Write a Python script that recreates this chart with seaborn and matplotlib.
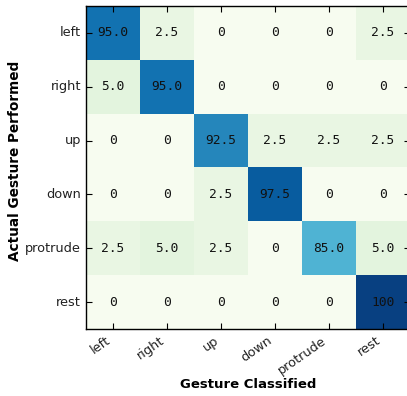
import numpy as np
import pandas as pd
import matplotlib
matplotlib.use("Agg")
import matplotlib.pyplot as plt
from matplotlib.colors import FuncNorm
import seaborn as sns

# ---------------------------------------------------------------------------
# Data: confusion matrix (percent), rows = actual, cols = classified
# ---------------------------------------------------------------------------
gestures = ["left", "right", "up", "down", "protrude", "rest"]

row_left     = [95.0, 2.5, 0, 0, 0, 2.5]
row_right    = [5.0, 95.0, 0, 0, 0, 0]
row_up       = [0, 0, 92.5, 2.5, 2.5, 2.5]
row_down     = [0, 0, 2.5, 97.5, 0, 0]
row_protrude = [2.5, 5.0, 2.5, 0, 85.0, 5.0]
row_rest     = [0, 0, 0, 0, 0, 100]

cm = pd.DataFrame(
    [row_left, row_right, row_up, row_down, row_protrude, row_rest],
    index=gestures, columns=gestures,
)

# cell text: "0", "100", otherwise one decimal
labels = cm.map(lambda v: "0" if v == 0 else ("100" if v == 100 else f"{v:.1f}"))

# colour scale is non-linear in the original: lifts small values, stretches the top
def fwd(x):
    u = np.clip(np.asarray(x, dtype=float) / 100.0, 0, None)
    return 0.5 * np.sqrt(u) + 0.5 * u ** 7

_grid = np.linspace(0, 100, 2001)
def inv(y):
    return np.interp(y, fwd(_grid), _grid)

norm = FuncNorm((fwd, inv), vmin=0, vmax=100)

# ---------------------------------------------------------------------------
# Plot
# ---------------------------------------------------------------------------
fig = plt.figure(figsize=(4.07, 3.96), dpi=100)
ax = fig.add_axes([0.2113, 0.1692, 0.795, 0.8157])

sns.heatmap(
    cm, ax=ax, cmap="GnBu", norm=norm, cbar=False,
    annot=labels, fmt="",
    annot_kws={"color": "#111111", "fontsize": 9.3, "family": "DejaVu Sans Mono"},
)

for side in ["left", "right", "top", "bottom"]:
    ax.spines[side].set_visible(True)
    ax.spines[side].set_color("black")
    ax.spines[side].set_linewidth(1.0)

ax.tick_params(direction="in", top=True, right=True, length=4, width=0.8,
               labelsize=9.3, labelcolor="#222222")
ax.set_xticklabels(gestures, rotation=35, ha="right")
ax.set_yticklabels(gestures, rotation=0)

ax.set_xlabel("Gesture Classified", fontsize=9.5, fontweight="bold")
ax.set_ylabel("Actual Gesture Performed", fontsize=9.8, fontweight="bold")
ax.xaxis.set_label_coords(0.5, -0.152)
ax.yaxis.set_label_coords(-0.198, 0.519)

fig.savefig("out.png", dpi=100)
plt.close(fig)
